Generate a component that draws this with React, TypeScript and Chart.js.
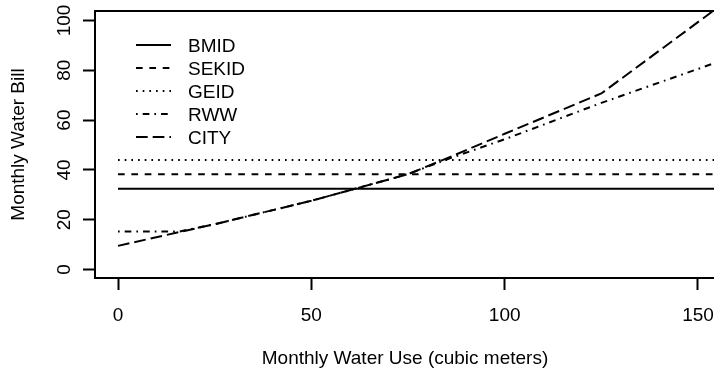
import React, { useEffect, useRef } from "react";
import { Chart, registerables } from "chart.js";

Chart.register(...registerables);

// ---- data ----
const usage = [0, 16, 25, 50, 75, 85, 100, 125, 160];
const cityBill = [9.5, 15.1, 18.2, 27.6, 38.3, 44.6, 54.5, 70.7, 110.8];
const rwwBill = [15.3, 15.3, 18.2, 27.6, 38.3, 44.2, 52.3, 66.9, 86];
const flatUsage = [0, 160];
const bmidBill = [32.4, 32.4];
const sekidBill = [38.3, 38.3];
const geidBill = [44, 44];
const seriesNames = ["BMID", "SEKID", "GEID", "RWW", "CITY"];
const xTicks = [0, 50, 100, 150];
const yTicks = [0, 20, 40, 60, 80, 100];
const xTitle = "Monthly Water Use (cubic meters)";
const yTitle = "Monthly Water Bill";

const FONT = '19px "Liberation Sans", Arial, Helvetica, sans-serif';
const U = 1.67;
const dashes: number[][] = [
  [],
  [4 * U, 4 * U],
  [1 * U, 3 * U],
  [1 * U, 3 * U, 4 * U, 3 * U],
  [7 * U, 3 * U],
];

const rPlot = {
  id: "rPlot",
  afterDraw(chart: any) {
    const { ctx, chartArea: a, scales } = chart;
    ctx.save();
    ctx.strokeStyle = "#000";
    ctx.lineWidth = 2;
    ctx.setLineDash([]);
    ctx.strokeRect(a.left, a.top, a.right - a.left, a.bottom - a.top);

    ctx.fillStyle = "#000";
    ctx.font = FONT;
    ctx.textBaseline = "alphabetic";
    ctx.textAlign = "center";
    // x tick labels
    scales.x.ticks.forEach((t: any) => {
      ctx.fillText(String(t.value), scales.x.getPixelForValue(t.value), a.bottom + 43);
    });
    // y tick labels (rotated, R style)
    scales.y.ticks.forEach((t: any) => {
      const y = scales.y.getPixelForValue(t.value);
      ctx.save();
      ctx.translate(a.left - 25, y);
      ctx.rotate(-Math.PI / 2);
      ctx.fillText(String(t.value), 0, 0);
      ctx.restore();
    });
    // axis titles
    ctx.fillText(xTitle, (a.left + a.right) / 2, 364);
    ctx.save();
    ctx.translate(24, (a.top + a.bottom) / 2);
    ctx.rotate(-Math.PI / 2);
    ctx.fillText(yTitle, 0, 0);
    ctx.restore();

    // legend
    ctx.textAlign = "left";
    chart.data.datasets.forEach((ds: any, i: number) => {
      const y = 45 + 23 * i;
      ctx.save();
      ctx.lineWidth = ds.borderWidth;
      ctx.setLineDash(ds.borderDash || []);
      ctx.beginPath();
      ctx.moveTo(136, y);
      ctx.lineTo(171, y);
      ctx.stroke();
      ctx.restore();
      ctx.fillText(ds.label, 188, y + 6.8);
    });
    ctx.restore();
  },
};

export default function App() {
  const ref = useRef<HTMLCanvasElement>(null);
  useEffect(() => {
    document.body.style.margin = "0";
    const pts = (xs: number[], ys: number[]) => xs.map((x, i) => ({ x, y: ys[i] }));
    const seriesData = [
      pts(flatUsage, bmidBill),
      pts(flatUsage, sekidBill),
      pts(flatUsage, geidBill),
      pts(usage, rwwBill),
      pts(usage, cityBill),
    ];
    const tickGrid = {
      display: true,
      drawOnChartArea: false,
      drawTicks: true,
      tickLength: 12,
      tickWidth: 2,
      tickColor: "#000",
    };
    const chart = new Chart(ref.current!, {
      type: "line",
      data: {
        datasets: seriesNames.map((name, i) => ({
          label: name,
          data: seriesData[i],
          borderColor: "#000",
          borderWidth: 2,
          borderDash: dashes[i],
          borderCapStyle: "butt",
          pointRadius: 0,
          tension: 0,
          fill: false,
        })),
      },
      options: {
        animation: false,
        responsive: false,
        events: [],
        layout: { padding: { left: 0, top: 11, right: 5, bottom: 0 } },
        plugins: { legend: { display: false }, tooltip: { enabled: false } },
        scales: {
          x: {
            type: "linear",
            min: -5.95,
            max: 154.4,
            afterBuildTicks: (s: any) => {
              s.ticks = xTicks.map((v) => ({ value: v }));
            },
            afterFit: (s: any) => {
              s.height = 93;
            },
            ticks: { display: false },
            grid: tickGrid,
            border: { display: false },
          },
          y: {
            type: "linear",
            min: -3.4,
            max: 103.8,
            afterBuildTicks: (s: any) => {
              s.ticks = yTicks.map((v) => ({ value: v }));
            },
            afterFit: (s: any) => {
              s.width = 95;
            },
            ticks: { display: false },
            grid: tickGrid,
            border: { display: false },
          },
        },
      },
      plugins: [rPlot],
    } as any);
    return () => chart.destroy();
  }, []);
  return (
    <div style={{ width: 714, height: 371, overflow: "hidden", position: "relative", background: "#fff" }}>
      <canvas ref={ref} width={720} height={371} style={{ width: 720, height: 371, display: "block" }} />
    </div>
  );
}
